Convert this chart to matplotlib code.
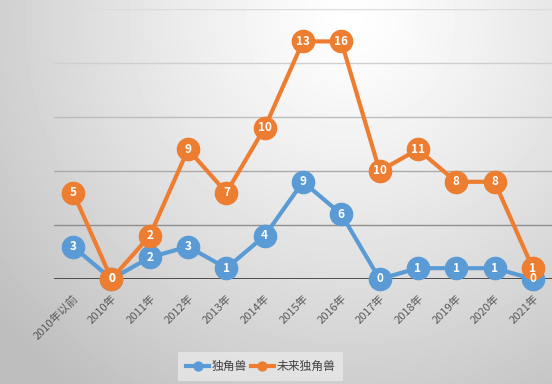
import matplotlib.pyplot as plt
import numpy as np

plt.rcParams['font.family'] = ['Noto Sans CJK SC', 'DejaVu Sans']

years = ['2010年以前', '2010年', '2011年', '2012年', '2013年', '2014年', '2015年',
         '2016年', '2017年', '2018年', '2019年', '2020年', '2021年']
unicorn = [3, 0, 2, 3, 1, 4, 9, 6, 0, 1, 1, 1, 0]
future_unicorn = [5, 0, 2, 9, 7, 10, 13, 16, 10, 11, 8, 8, 1]

blue = '#5B9BD5'
orange = '#ED7D31'

fig = plt.figure(figsize=(5.52, 3.84), dpi=100)

# gray gradient background
bg = fig.add_axes([0, 0, 1, 1], zorder=-10)
yy, xx = np.mgrid[0:384, 0:552]
d = np.sqrt((xx - 350) ** 2 + (yy - 20) ** 2)
shade = np.clip(255 - 55 * (d / 400) ** 1.2, 190, 255) / 255
bg.imshow(shade, cmap='gray', vmin=0, vmax=1, aspect='auto')
bg.axis('off')

ax = fig.add_axes([54 / 552, 105 / 384, 498 / 552, 270 / 384])
ax.set_facecolor('none')

x = np.arange(len(years))
low = np.array(unicorn)
top = low + np.array(future_unicorn)  # stacked line chart

grid_cols = ['#dcdcdc', '#cfcfcf', '#bdbdbd', '#ababab', '#8f8f8f']
for g, c in zip([25, 20, 15, 10, 5], grid_cols):
    ax.axhline(g, color=c, lw=1, zorder=0)
ax.axhline(0, color='#404040', lw=2, zorder=1)

ax.plot(x, low, color=blue, lw=3, marker='o', ms=16, zorder=3, clip_on=False,
        label='独角兽')
ax.plot(x, top, color=orange, lw=3, marker='o', ms=16, zorder=5, clip_on=False,
        label='未来独角兽')
for i in range(len(x)):
    ax.text(x[i], low[i], str(unicorn[i]), color='white', fontsize=8.5,
            fontweight='bold', ha='center', va='center', zorder=7)
    ax.text(x[i], top[i], str(future_unicorn[i]), color='white', fontsize=8.5,
            fontweight='bold', ha='center', va='center', zorder=7)

ax.set_xlim(-0.5, len(x) - 0.5)
ax.set_ylim(0, 25)
ax.set_yticks([])
ax.set_xticks(x)
ax.set_xticklabels(years, rotation=45, ha='right', va='top',
                   rotation_mode='anchor', color='#595959', fontsize=8)
ax.tick_params(axis='x', length=0, pad=10)
for s in ax.spines.values():
    s.set_visible(False)

leg = fig.legend(loc='center', bbox_to_anchor=(0.472, 0.046), ncol=2,
                 frameon=True, fontsize=8.5, handlelength=2.0, handletextpad=0.2,
                 columnspacing=0.3, borderpad=0.35, markerscale=0.4)
leg.get_frame().set_facecolor('#e8e8e8')
leg.get_frame().set_edgecolor('none')
leg.get_frame().set_boxstyle('square')
for t in leg.get_texts():
    t.set_color('#404040')

fig.savefig('out.png', dpi=100)
